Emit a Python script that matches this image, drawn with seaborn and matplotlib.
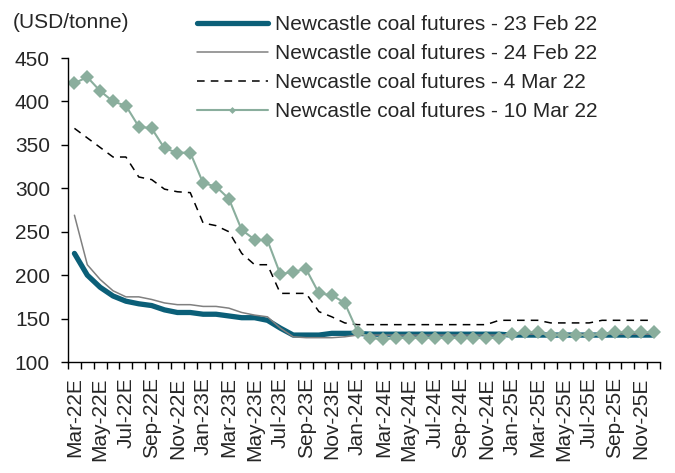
import numpy as np
import pandas as pd
import matplotlib
matplotlib.use('Agg')
import matplotlib.pyplot as plt
import seaborn as sns

# monthly contract labels, Mar-22E .. Dec-25E
months = [d.strftime('%b-%y') + 'E' for d in pd.date_range('2022-03-01', '2025-12-01', freq='MS')]

feb23 = [225, 200, 186, 176, 170, 167, 165, 160, 157, 157, 155, 155, 153, 151, 151, 148,
         139, 131, 131, 131, 133, 133, 133, 132, 132, 132, 132, 132, 132, 132, 132, 132,
         132, 132, 131, 131, 131, 131, 131, 131, 131, 131, 131, 131, 131, 131]
feb24 = [269, 212, 195, 182, 175, 175, 172, 168, 166, 166, 164, 164, 162, 157, 154, 152,
         139, 129, 128, 128, 128, 129, 131, 131, 131, 131, 131, 131, 131, 131, 131, 131,
         131, 131, 132, 132, 132, 132, 132, 132, 132, 132, 132, 132, 132, 132]
mar04 = [369, 358, 347, 336, 336, 313, 310, 299, 296, 295, 260, 257, 250, 225, 212, 212,
         179, 179, 179, 158, 152, 145, 143, 143, 143, 143, 143, 143, 143, 143, 143, 143,
         143, 148, 148, 148, 148, 145, 145, 145, 145, 148, 148, 148, 148, 148]
mar10 = [421, 428, 412, 400, 395, 371, 369, 346, 341, 341, 306, 302, 288, 252, 241, 240,
         201, 204, 207, 179, 177, 168, 135, 128, 126, 128, 128, 128, 128, 128, 128, 128,
         128, 128, 132, 134, 134, 131, 131, 131, 131, 132, 134, 134, 134, 134]

labels = ['Newcastle coal futures - 23 Feb 22',
          'Newcastle coal futures - 24 Feb 22',
          'Newcastle coal futures - 4 Mar 22',
          'Newcastle coal futures - 10 Mar 22']

sns.set_style('ticks')
plt.rcParams['font.family'] = ['Liberation Sans', 'DejaVu Sans']
FS = 15

x = np.arange(len(months))
fig = plt.figure(figsize=(6.75, 4.73), dpi=100)
ax = fig.add_axes([68 / 675, 1 - 362 / 473, 592 / 675, 304 / 473])

sns.lineplot(x=x, y=feb23, ax=ax, color='#0b5f78', lw=3.8, label=labels[0],
             solid_capstyle='round')
sns.lineplot(x=x, y=feb24, ax=ax, color='#808080', lw=1.1, label=labels[1])
sns.lineplot(x=x, y=mar04, ax=ax, color='black', lw=1.1, linestyle=(0, (5, 4)),
             label=labels[2])
sns.lineplot(x=x, y=mar10, ax=ax, color='#8aae9d', lw=1.5, marker='D', markersize=7,
             markeredgewidth=0, label=labels[3])

ax.set_xlim(-0.5, len(months) - 0.5)
ax.set_ylim(100, 450)
ax.set_yticks(np.arange(100, 451, 50))
ax.set_xticks(x[::2])
ax.set_xticklabels(months[::2], rotation=90, fontsize=FS)
ax.set_xticks(np.arange(-0.5, len(months), 1), minor=True)
ax.tick_params(axis='x', which='major', length=0, pad=11)
ax.tick_params(axis='x', which='minor', length=5, width=1, color='black')
ax.tick_params(axis='y', length=5, width=1, color='black', labelsize=FS, pad=8)
ax.set_xlabel('')
ax.set_ylabel('')
for s in ['top', 'right']:
    ax.spines[s].set_visible(False)
for s in ['left', 'bottom']:
    ax.spines[s].set_color('black')
    ax.spines[s].set_linewidth(1.0)

leg = ax.legend(loc='upper left', bbox_to_anchor=(197 / 675, 1 - 15 / 473),
                bbox_transform=fig.transFigure, frameon=False, fontsize=FS,
                handlelength=3.4, handletextpad=0.35, labelspacing=0.48,
                borderpad=0, borderaxespad=0)
leg.legend_handles[3].set_markersize(3.5)

fig.text(13 / 675, 1 - 22 / 473, '(USD/tonne)', fontsize=FS, va='center', ha='left')

fig.savefig('out.png', dpi=100)
plt.close(fig)
